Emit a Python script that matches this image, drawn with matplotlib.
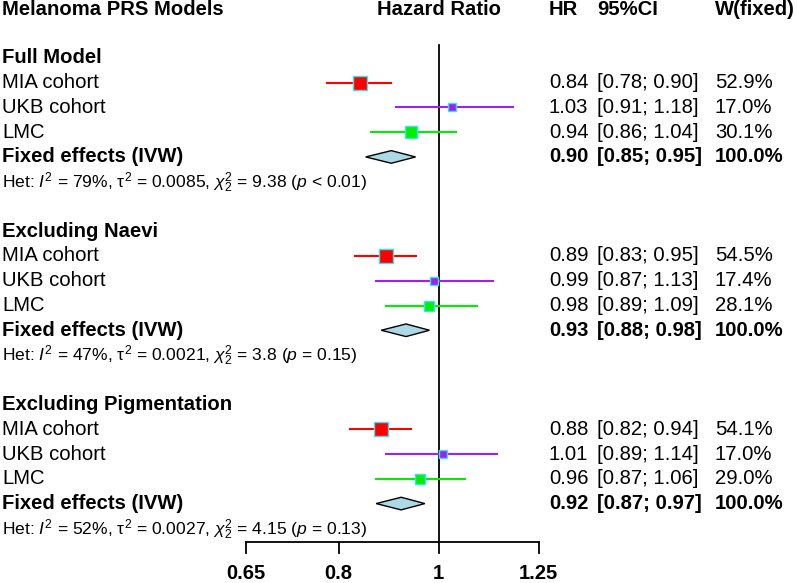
import matplotlib
matplotlib.use("Agg")
import matplotlib.pyplot as plt
from matplotlib.patches import Polygon

plt.rcParams['font.family'] = ['Liberation Sans', 'DejaVu Sans']
plt.rcParams['mathtext.fontset'] = 'custom'
plt.rcParams['mathtext.rm'] = 'Liberation Sans'
plt.rcParams['mathtext.it'] = 'Liberation Sans:italic'
plt.rcParams['mathtext.bf'] = 'Liberation Sans:bold'

# ---------------- data ----------------
title = "Melanoma PRS Models"
groups = ["Full Model", "Excluding Naevi", "Excluding Pigmentation"]
studies = ["MIA cohort", "UKB cohort", "LMC"]
study_colors = ["#FF0000", "#A020F0", "#00EE00"]
hr = [[0.84, 1.03, 0.94], [0.89, 0.99, 0.98], [0.88, 1.01, 0.96]]
ci_lo = [[0.78, 0.91, 0.86], [0.83, 0.87, 0.89], [0.82, 0.89, 0.87]]
ci_hi = [[0.90, 1.18, 1.04], [0.95, 1.13, 1.09], [0.94, 1.14, 1.06]]
weights = [[52.9, 17.0, 30.1], [54.5, 17.4, 28.1], [54.1, 17.0, 29.0]]
fixed_label = "Fixed effects (IVW)"
fixed_hr = [0.90, 0.93, 0.92]
fixed_lo = [0.85, 0.88, 0.87]
fixed_hi = [0.95, 0.98, 0.97]
fixed_w = [100.0, 100.0, 100.0]
het_I2 = ["79", "47", "52"]
het_tau2 = ["0.0085", "0.0021", "0.0027"]
het_chi2 = ["9.38", "3.8", "4.15"]
het_p = ["< 0.01", "= 0.15", "= 0.13"]
xticks = [0.65, 0.8, 1, 1.25]
xtick_labels = ["0.65", "0.8", "1", "1.25"]

# ---------------- layout ----------------
W, H = 797, 583
fig = plt.figure(figsize=(W / 100, H / 100), dpi=100)
row0_px, row_h = 57.9, 24.76
ytop = (0 - row0_px) / row_h
ybot = (H - row0_px) / row_h

# text axes (x in pixels, y in rows)
tax = fig.add_axes([0, 0, 1, 1])
tax.set_xlim(0, W)
tax.set_ylim(ybot, ytop)
tax.axis('off')

# forest axes
x0_px, x1_px = 245.5, 538.5
ax = fig.add_axes([x0_px / W, 0, (x1_px - x0_px) / W, 1])
ax.set_xscale('log')
ax.set_xlim(xticks[0], xticks[-1])
ax.set_ylim(ybot, ytop)
ax.axis('off')
ax.patch.set_alpha(0)

fs = 14.6
fs_het = 12.6
col_hr, col_ci, col_w = 549, 597.5, 715
lab_x = 2

# headers
title_row = -1.95
tax.text(lab_x, title_row, title, fontsize=fs, fontweight='bold', va='center', ha='left')
ax.text(1.0, title_row, "Hazard Ratio", fontsize=fs, fontweight='bold', va='center', ha='center')
tax.text(col_hr, title_row, "HR", fontsize=fs, fontweight='bold', va='center')
tax.text(col_ci, title_row, "95%CI", fontsize=fs, fontweight='bold', va='center')
tax.text(col_w, title_row, "W(fixed)", fontsize=fs, fontweight='bold', va='center')

axis_row = 19.54
ax.plot([1, 1], [-0.52, axis_row], color='black', lw=1.3, zorder=1)

for g, gname in enumerate(groups):
    base = g * 7
    tax.text(lab_x, base, gname, fontsize=fs, fontweight='bold', va='center')
    for s, sname in enumerate(studies):
        r = base + 1 + s
        tax.text(lab_x, r, sname, fontsize=fs, va='center')
        ax.plot([ci_lo[g][s], ci_hi[g][s]], [r, r], color=study_colors[s], lw=1.5, zorder=2)
        ax.scatter([hr[g][s]], [r], marker='s', s=2.1 * weights[g][s],
                   facecolor=study_colors[s], edgecolor='#33E6F0', linewidth=1.0, zorder=3)
        tax.text(col_hr, r, f"{hr[g][s]:.2f}", fontsize=fs, va='center')
        tax.text(col_ci, r, f"[{ci_lo[g][s]:.2f}; {ci_hi[g][s]:.2f}]", fontsize=fs, va='center')
        tax.text(col_w, r, f"{weights[g][s]:.1f}%", fontsize=fs, va='center')
    r = base + 4
    tax.text(lab_x, r, fixed_label, fontsize=fs, fontweight='bold', va='center')
    dh = 0.255
    poly = Polygon([(fixed_lo[g], r), (fixed_hr[g], r - dh), (fixed_hi[g], r), (fixed_hr[g], r + dh)],
                   closed=True, facecolor='#ADD8E6', edgecolor='black', lw=1.0, zorder=3)
    ax.add_patch(poly)
    tax.text(col_hr, r, f"{fixed_hr[g]:.2f}", fontsize=fs, fontweight='bold', va='center')
    tax.text(col_ci, r, f"[{fixed_lo[g]:.2f}; {fixed_hi[g]:.2f}]", fontsize=fs, fontweight='bold', va='center')
    tax.text(col_w, r, f"{fixed_w[g]:.1f}%", fontsize=fs, fontweight='bold', va='center')
    r = base + 5.05
    het = (f"Het: $I^2$ = {het_I2[g]}%, $\\mathrm{{\\tau}}^2$ = {het_tau2[g]}, "
           f"$\\chi^2_2$ = {het_chi2[g]} ($p$ {het_p[g]})")
    tax.text(lab_x, r, het, fontsize=fs_het, va='center')

# x axis
ax.plot([xticks[0], xticks[-1]], [axis_row, axis_row], color='black', lw=1.3, clip_on=False)
for t, lab in zip(xticks, xtick_labels):
    ax.plot([t, t], [axis_row, axis_row + 0.45], color='black', lw=1.3, clip_on=False)
    ax.text(t, axis_row + 1.27, lab, fontsize=14.5, fontweight='bold', ha='center', va='center')

fig.savefig("out.png", dpi=100)
